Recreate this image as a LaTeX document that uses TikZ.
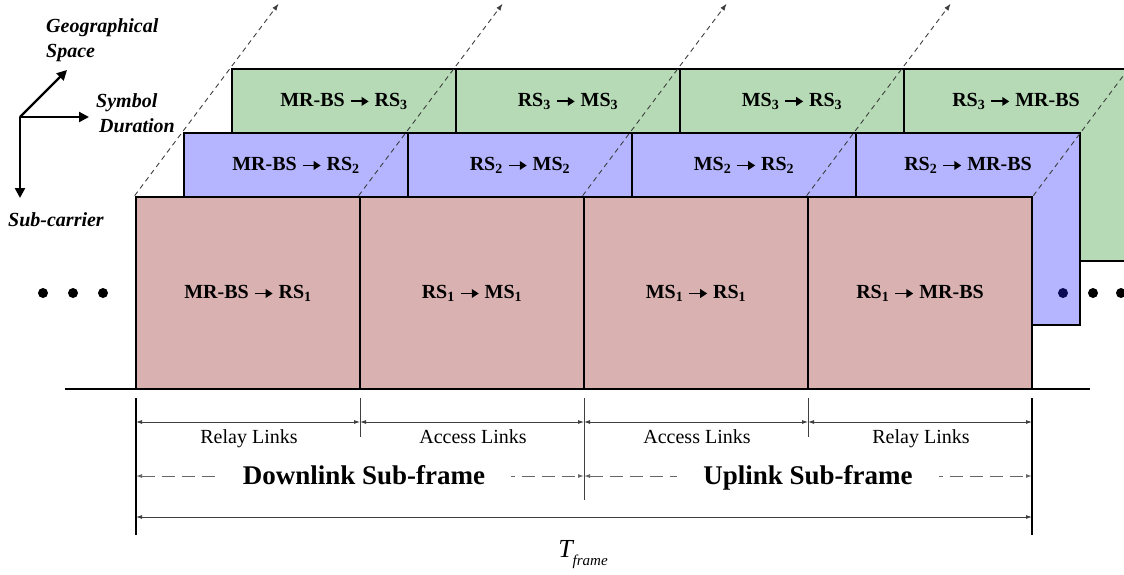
\documentclass[tikz,border=0pt]{standalone}
\usepackage{fontspec}
\setmainfont{Liberation Serif}
\usetikzlibrary{arrows.meta,calc}
\definecolor{redf}{HTML}{D9B1B1}
\definecolor{greenf}{HTML}{B5DAB5}
\definecolor{bluef}{HTML}{B4B4FF}
\definecolor{navydot}{HTML}{0A0A55}
\newcommand\rarr{\tikz[baseline=-0.5ex]\draw[line width=1.9pt,-{Triangle[length=7pt,width=8.5pt]}](0pt,0pt)--(18pt,0pt);}
\begin{document}
\begin{tikzpicture}[x=1pt,y=-1pt,
  cell/.style={draw=black,line width=2.7pt,minimum width=224pt,minimum height=192pt,inner sep=0pt,anchor=center},
  lbl/.style={font=\fontsize{20}{23}\selectfont\bfseries,inner sep=0pt},
  axlbl/.style={font=\fontsize{20}{25}\selectfont\bfseries\itshape,inner sep=0pt,align=left},
  axarr/.style={line width=2.2pt,-{Triangle[length=10pt,width=10pt]}},
  diag/.style={line width=0.9pt,draw=black!75,dash pattern=on 5pt off 4pt,-{Latex[length=7pt,width=5pt]}},
  dimline/.style={line width=0.8pt,draw=black!75,{Latex[length=6pt,width=4pt]}-{Latex[length=6pt,width=4pt]}},
  dimdash/.style={dimline,draw=black!60,line width=1pt,dash pattern=on 13pt off 7pt},
  small/.style={font=\fontsize{20}{22}\selectfont,inner sep=0pt,anchor=base},
  big/.style={font=\fontsize{27}{30}\selectfont\bfseries,fill=white,inner xsep=26pt,inner ysep=2pt,anchor=base},
  dotc/.style={circle,fill=black,inner sep=0pt,minimum size=10pt}
]
\useasboundingbox (0,0) rectangle (1124,574);
\clip (0,0) rectangle (1124,574);
% green layer
\node[cell,fill=greenf] (G1) at (344,165) {};
\node[cell,fill=greenf] (G2) at (568,165) {};
\node[cell,fill=greenf] (G3) at (792,165) {};
\node[cell,fill=greenf] (G4) at (1016,165) {};
% blue layer
\node[cell,fill=bluef] (B1) at (296,229) {};
\node[cell,fill=bluef] (B2) at (520,229) {};
\node[cell,fill=bluef] (B3) at (744,229) {};
\node[cell,fill=bluef] (B4) at (968,229) {};
% red layer
\node[cell,fill=redf] (R1) at (248,293) {};
\node[cell,fill=redf] (R2) at (472,293) {};
\node[cell,fill=redf] (R3) at (696,293) {};
\node[cell,fill=redf] (R4) at (920,293) {};
% labels
\node[lbl] (lg1) at (344,101) {MR-BS \rarr{} RS\textsubscript{3}};
\node[lbl] (lg2) at (568,101) {RS\textsubscript{3} \rarr{} MS\textsubscript{3}};
\node[lbl] (lg3) at (792,101) {MS\textsubscript{3} \rarr{} RS\textsubscript{3}};
\node[lbl] (lg4) at (1016,101) {RS\textsubscript{3} \rarr{} MR-BS};
\node[lbl] (lb1) at (296,165) {MR-BS \rarr{} RS\textsubscript{2}};
\node[lbl] (lb2) at (520,165) {RS\textsubscript{2} \rarr{} MS\textsubscript{2}};
\node[lbl] (lb3) at (744,165) {MS\textsubscript{2} \rarr{} RS\textsubscript{2}};
\node[lbl] (lb4) at (968,165) {RS\textsubscript{2} \rarr{} MR-BS};
\node[lbl] (lr1) at (248,293) {MR-BS \rarr{} RS\textsubscript{1}};
\node[lbl] (lr2) at (472,293) {RS\textsubscript{1} \rarr{} MS\textsubscript{1}};
\node[lbl] (lr3) at (696,293) {MS\textsubscript{1} \rarr{} RS\textsubscript{1}};
\node[lbl] (lr4) at (920,293) {RS\textsubscript{1} \rarr{} MR-BS};
% diagonal dashed lines
\draw[diag] (R1.north west) -- ++(144,-192);
\draw[diag] (R2.north west) -- ++(144,-192);
\draw[diag] (R3.north west) -- ++(144,-192);
\draw[diag] (R4.north west) -- ++(144,-192);
\draw[diag] (R4.north east) -- ++(144,-192);
% dots
\node[dotc] (dl1) at (43,293) {};
\node[dotc] (dl2) at (73,293) {};
\node[dotc] (dl3) at (103,293) {};
\node[dotc,fill=navydot] (dr1) at (1063,293) {};
\node[dotc] (dr2) at (1093,293) {};
\node[dotc] (dr3) at (1121,293) {};
% baseline
\coordinate (bl) at (65,389);
\coordinate (br) at (1090,389);
\draw[line width=2.7pt] (bl) -- (br);
% axes
\coordinate (ax0) at (20,117);
\coordinate (axR) at (89,117);
\coordinate (axU) at (67,70);
\coordinate (axD) at (20,198);
\draw[axarr] (ax0) -- (axR);
\draw[axarr] (ax0) -- (axU);
\draw[axarr] (ax0) -- (axD);
\node[axlbl,anchor=base west] (tg1) at (46,32) {Geographical};
\node[axlbl,anchor=base west] (tg2) at (46,57) {Space};
\node[axlbl,anchor=base west] (ts1) at (96,107) {Symbol};
\node[axlbl,anchor=base west] (ts2) at (99,132) {Duration};
\node[axlbl,anchor=base west] (tsc) at (8,226) {Sub-carrier};
% dimension ticks
\coordinate (k0a) at (136,398); \coordinate (k0b) at (136,535);
\coordinate (k1a) at (360,398); \coordinate (k1b) at (360,437);
\coordinate (k2a) at (584,398); \coordinate (k2b) at (584,500);
\coordinate (k3a) at (808,398); \coordinate (k3b) at (808,437);
\coordinate (k4a) at (1032,398); \coordinate (k4b) at (1032,535);
\draw[line width=2.7pt] (k0a) -- (k0b);
\draw[line width=2.7pt] (k4a) -- (k4b);
\draw[line width=0.8pt,black!75] (k1a) -- (k1b);
\draw[line width=0.8pt,black!75] (k2a) -- (k2b);
\draw[line width=0.8pt,black!75] (k3a) -- (k3b);
% link arrows
\coordinate (a0) at (136,422); \coordinate (a1) at (360,422); \coordinate (a2) at (584,422);
\coordinate (a3) at (808,422); \coordinate (a4) at (1032,422);
\draw[dimline] (a0) -- (a1);
\draw[dimline] (a1) -- (a2);
\draw[dimline] (a2) -- (a3);
\draw[dimline] (a3) -- (a4);
\node[small] (tl1) at (249,443) {Relay Links};
\node[small] (tl2) at (473,443) {Access Links};
\node[small] (tl3) at (697,443) {Access Links};
\node[small] (tl4) at (921,443) {Relay Links};
% sub-frame arrows
\coordinate (s0) at (136,476); \coordinate (s1) at (584,476); \coordinate (s2) at (1032,476);
\draw[dimdash] (s0) -- (s1);
\draw[dimdash] (s1) -- (s2);
\node[big] (tdl) at (364,484) {Downlink Sub-frame};
\node[big] (tul) at (808,484) {Uplink Sub-frame};
% frame arrow
\coordinate (f0) at (136,517); \coordinate (f1) at (1032,517);
\draw[dimline] (f0) -- (f1);
\node[inner sep=0pt] (tf) at (583,555) {{\fontsize{26}{26}\selectfont\itshape T}\raisebox{-8pt}{\fontsize{15}{15}\selectfont\itshape frame}};
\end{tikzpicture}
\end{document}
